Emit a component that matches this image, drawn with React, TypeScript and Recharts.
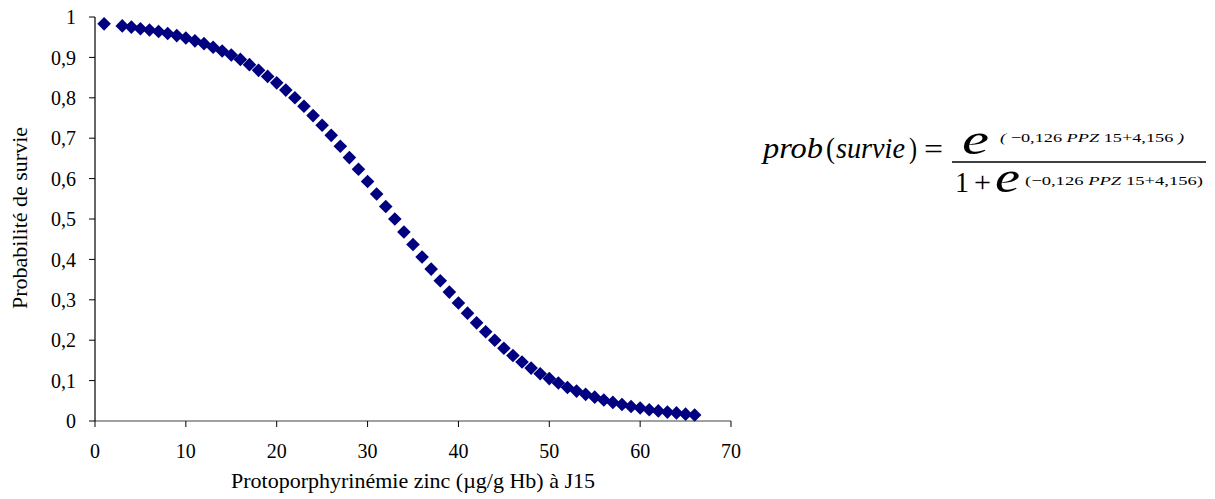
import React from "react";
import { ScatterChart, Scatter, XAxis, YAxis } from "recharts";

// PPZ à J15 (µg/g Hb) et probabilité de survie
const PPZ = [
  1, 3, 4, 5, 6, 7, 8, 9, 10, 11, 12, 13, 14, 15, 16, 17, 18, 19, 20, 21, 22, 23, 24, 25,
  26, 27, 28, 29, 30, 31, 32, 33, 34, 35, 36, 37, 38, 39, 40, 41, 42, 43, 44, 45, 46, 47,
  48, 49, 50, 51, 52, 53, 54, 55, 56, 57, 58, 59, 60, 61, 62, 63, 64, 65, 66,
];
const SURVIE = [
  0.983, 0.978, 0.975, 0.971, 0.968, 0.964, 0.959, 0.954, 0.948, 0.941, 0.934, 0.925,
  0.916, 0.906, 0.895, 0.882, 0.868, 0.853, 0.837, 0.819, 0.8, 0.779, 0.756, 0.732, 0.707,
  0.68, 0.652, 0.623, 0.593, 0.562, 0.531, 0.5, 0.468, 0.437, 0.406, 0.376, 0.347, 0.319,
  0.292, 0.267, 0.243, 0.221, 0.2, 0.18, 0.162, 0.146, 0.131, 0.117, 0.105, 0.094, 0.083,
  0.074, 0.066, 0.059, 0.052, 0.046, 0.041, 0.036, 0.032, 0.028, 0.025, 0.022, 0.02, 0.017,
  0.015,
];
const X_TICKS = [0, 10, 20, 30, 40, 50, 60, 70];
const Y_TICKS = [0, 0.1, 0.2, 0.3, 0.4, 0.5, 0.6, 0.7, 0.8, 0.9, 1];

const FONT = "Liberation Serif";
const NAVY = "#000080";

const data = PPZ.map((x, i) => ({ x, y: SURVIE[i] }));

// losange (carré tourné de 45°)
const Diamond = (props: any) => {
  const { cx, cy } = props;
  if (cx == null || cy == null) return null;
  const r = 6.8;
  return (
    <polygon
      points={`${cx},${cy - r} ${cx + r},${cy} ${cx},${cy + r} ${cx - r},${cy}`}
      fill={NAVY}
    />
  );
};

const fmt = (v: number) => String(v).replace(".", ",");

// un morceau de la formule, calé en largeur
const Piece = ({ x, y, w, size, italic, children }: any) => (
  <text
    x={x}
    y={y}
    fontSize={size}
    fontStyle={italic ? "italic" : "normal"}
    textLength={w}
    lengthAdjust="spacingAndGlyphs"
    fill="#000"
  >
    {children}
  </text>
);

const Formula = () => (
  <svg
    width={1199}
    height={491}
    style={{ position: "absolute", left: 0, top: 0, pointerEvents: "none" }}
    fontFamily={FONT}
  >
    <g transform="translate(-8,-8)">
      <Piece x={763} y={158} w={60} size={29} italic>prob</Piece>
      <Piece x={826} y={158} w={9} size={30}>(</Piece>
      <Piece x={836} y={158} w={69} size={29} italic>survie</Piece>
      <Piece x={909} y={158} w={8} size={30}>)</Piece>
      <Piece x={924} y={159} w={19} size={30}>=</Piece>
      <line x1={952} x2={1206} y1={162} y2={162} stroke="#000" strokeWidth={1.5} />
      {/* numérateur */}
      <Piece x={962} y={154} w={27} size={44} italic>e</Piece>
      <text x={1000} y={142} fontSize={13} textLength={184} lengthAdjust="spacingAndGlyphs" fill="#000">
        <tspan fontStyle="italic">(</tspan>
        <tspan> −0,126 </tspan>
        <tspan fontStyle="italic">PPZ</tspan>
        <tspan> 15+4,156 </tspan>
        <tspan fontStyle="italic">)</tspan>
      </text>
      {/* dénominateur */}
      <Piece x={955} y={192} w={14} size={30}>1</Piece>
      <Piece x={974} y={192} w={17} size={30}>+</Piece>
      <Piece x={995} y={192} w={25} size={44} italic>e</Piece>
      <text x={1025} y={185} fontSize={13} textLength={178} lengthAdjust="spacingAndGlyphs" fill="#000">
        <tspan>(−0,126 </tspan>
        <tspan fontStyle="italic">PPZ</tspan>
        <tspan> 15+4,156)</tspan>
      </text>
    </g>
  </svg>
);

export default function App() {
  return (
    <div
      style={{
        position: "relative",
        width: 1199,
        height: 491,
        background: "#fff",
        fontFamily: FONT,
      }}
    >
      <ScatterChart
        width={760}
        height={491}
        margin={{ top: 9, right: 37, left: 30, bottom: 28 }}
      >
        <XAxis
          type="number"
          dataKey="x"
          domain={[0, 70]}
          ticks={X_TICKS}
          interval={0}
          axisLine={{ stroke: "#808080", strokeWidth: 1.5 }}
          tickLine={{ stroke: "#000" }}
          tickSize={6}
          tickMargin={17}
          height={50}
          tick={{ fill: "#000", fontSize: 20, fontFamily: FONT }}
          label={{
            content: () => (
              <text x={405} y={480} textAnchor="middle" fontSize={22} fontFamily={FONT} fill="#000">
                Protoporphyrinémie zinc (µg/g Hb) à J15
              </text>
            ),
          }}
        />
        <YAxis
          type="number"
          dataKey="y"
          domain={[0, 1]}
          ticks={Y_TICKS}
          interval={0}
          width={57}
          axisLine={{ stroke: "#000", strokeWidth: 1.2 }}
          tickLine={{ stroke: "#000" }}
          tickSize={6}
          tickMargin={13}
          tickFormatter={fmt}
          tick={{ fill: "#000", fontSize: 20, fontFamily: FONT }}
          label={{
            content: () => (
              <text
                x={19}
                y={210}
                transform="rotate(-90 19 210)"
                textAnchor="middle"
                fontSize={22}
                fontFamily={FONT}
                fill="#000"
              >
                Probabilité de survie
              </text>
            ),
          }}
        />
        <Scatter data={data} shape={Diamond} isAnimationActive={false} />
      </ScatterChart>
      <Formula />
    </div>
  );
}
